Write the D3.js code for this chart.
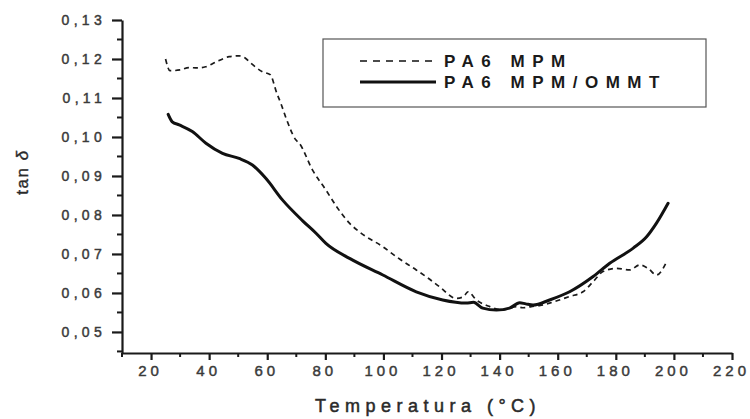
<!DOCTYPE html>
<html>
<head>
<meta charset="utf-8">
<script src="https://cdn.jsdelivr.net/npm/d3@7"></script>
<style>
  body { margin: 0; background: #fff; }
  svg { font-family: "Liberation Sans", Arial, sans-serif; }
</style>
</head>
<body>
<script>
// data (temperature in °C, tan delta)
const seriesNames = ["PA6 MPM", "PA6 MPM/OMMT"];

const tempMPM = [25, 26.5, 30, 33, 36, 38.8, 42.3, 46.9, 50.3, 52.5, 54.4, 58.4, 61, 63.3, 64.7, 66.4, 69.9, 71, 75.6, 80.2, 84, 88.3, 92, 99.7, 105, 111.3, 115, 119.3, 125.1, 127.5, 129.1, 132, 136.6, 141.1, 145.8, 148, 150.9, 154, 157.2, 164.1, 168.7, 172.2, 175.6, 180.2, 184.8, 188.3, 191.1, 194, 197.5];
const tanMPM = [0.1200, 0.1170, 0.1172, 0.1178, 0.1177, 0.1180, 0.1192, 0.1206, 0.1208, 0.1202, 0.1189, 0.1167, 0.1160, 0.1112, 0.1086, 0.1050, 0.0992, 0.0984, 0.0915, 0.0864, 0.0820, 0.0779, 0.0755, 0.0719, 0.0690, 0.0659, 0.0640, 0.0616, 0.0586, 0.0590, 0.0603, 0.0582, 0.0565, 0.0556, 0.0565, 0.0562, 0.0565, 0.0568, 0.0574, 0.0591, 0.0603, 0.0629, 0.0655, 0.0663, 0.0659, 0.0672, 0.0663, 0.0646, 0.0680];

const tempOMMT = [25.9, 27.3, 29.7, 34.2, 38.9, 44.6, 50.3, 54.9, 59.5, 65.3, 72.2, 76.8, 80.2, 88.5, 99.8, 111.3, 120.4, 128.5, 131, 134.2, 138.9, 143.4, 146.9, 149, 151.5, 157.2, 164.1, 172.2, 177.9, 186, 190.6, 194, 198];
const tanOMMT = [0.1058, 0.1039, 0.1031, 0.1014, 0.0984, 0.0958, 0.0945, 0.0928, 0.0894, 0.0838, 0.0785, 0.0753, 0.0727, 0.0688, 0.0646, 0.0603, 0.0582, 0.0574, 0.0576, 0.0561, 0.0556, 0.0561, 0.0575, 0.0572, 0.0569, 0.0582, 0.0603, 0.0642, 0.0676, 0.0715, 0.0744, 0.0779, 0.0830];

const xTicks = [20, 40, 60, 80, 100, 120, 140, 160, 180, 200, 220];
const yTicks = [0.05, 0.06, 0.07, 0.08, 0.09, 0.10, 0.11, 0.12, 0.13];
const xMinor = [10, 30, 50, 70, 90, 110, 130, 150, 170, 190, 210];
const yMinor = [0.045, 0.055, 0.065, 0.075, 0.085, 0.095, 0.105, 0.115, 0.125];

const W = 750, H = 419;
const svg = d3.select("body").append("svg").attr("width", W).attr("height", H);

const x = d3.scaleLinear().domain([10, 220]).range([122, 732]);
const y = d3.scaleLinear().domain([0.0446, 0.13]).range([353, 20]);

const ink = "#1a1a1a";
const x0 = x.range()[0], y0 = y.range()[0];

// minor ticks
const minor = svg.append("g").attr("stroke", ink).attr("stroke-width", 2);
minor.selectAll(".xmin").data(xMinor).join("line")
  .attr("x1", d => x(d)).attr("x2", d => x(d))
  .attr("y1", y0).attr("y2", y0 + 4);
minor.selectAll(".ymin").data(yMinor).join("line")
  .attr("x1", x0 - 5).attr("x2", x0)
  .attr("y1", d => y(d)).attr("y2", d => y(d));

// axes
const xAxis = svg.append("g")
  .attr("transform", `translate(0,${y0})`)
  .call(d3.axisBottom(x).tickValues(xTicks).tickSizeInner(7).tickSizeOuter(0).tickPadding(5));
const yAxis = svg.append("g")
  .attr("transform", `translate(${x0},0)`)
  .call(d3.axisLeft(y).tickValues(yTicks).tickSizeInner(10).tickSizeOuter(0).tickPadding(6)
    .tickFormat(d => d3.format(".2f")(d).replace(".", ",")));

[xAxis, yAxis].forEach(g => {
  g.select(".domain").attr("stroke", ink).attr("stroke-width", 2.2);
  g.selectAll(".tick line").attr("stroke", ink).attr("stroke-width", 2.2);
  g.selectAll("text")
    .attr("fill", "#3a3a3a")
    .attr("stroke", "#3a3a3a")
    .attr("stroke-width", 0.45);
});
xAxis.selectAll("text").attr("dx", "-1px").style("font-size", "15px").style("letter-spacing", "4px");
yAxis.selectAll("text").style("font-size", "14px").style("letter-spacing", "4.3px");

// axis titles
svg.append("text")
  .attr("x", 428).attr("y", 412)
  .attr("text-anchor", "middle")
  .attr("fill", "#2a2a2a")
  .attr("stroke", "#2a2a2a")
  .attr("stroke-width", 0.5)
  .style("font-size", "18px")
  .style("letter-spacing", "5.5px")
  .text("Temperatura (°C)");

const yt = svg.append("text")
  .attr("transform", "translate(28,172) rotate(-90)")
  .attr("text-anchor", "middle")
  .attr("fill", "#2a2a2a")
  .attr("stroke", "#2a2a2a")
  .attr("stroke-width", 0.4)
  .style("font-size", "17px")
  .style("letter-spacing", "1.5px");
yt.append("tspan").text("tan ");
yt.append("tspan").style("font-style", "italic").text("δ");

// curves
const line = d3.line().x(d => x(d[0])).y(d => y(d[1])).curve(d3.curveMonotoneX);

svg.append("path")
  .datum(d3.zip(tempMPM, tanMPM))
  .attr("d", line)
  .attr("fill", "none")
  .attr("stroke", "#1a1a1a")
  .attr("stroke-width", 1.7)
  .attr("stroke-dasharray", "5,4");

svg.append("path")
  .datum(d3.zip(tempOMMT, tanOMMT))
  .attr("d", line)
  .attr("fill", "none")
  .attr("stroke", "#111")
  .attr("stroke-width", 3)
  .attr("stroke-linecap", "round");

// legend
const leg = svg.append("g");
leg.append("rect")
  .attr("x", 323).attr("y", 39).attr("width", 383).attr("height", 68)
  .attr("fill", "none").attr("stroke", "#555").attr("stroke-width", 1.2);

seriesNames.forEach((name, i) => {
  const ly = 61 + i * 21;
  leg.append("line")
    .attr("x1", 360).attr("x2", 436).attr("y1", ly).attr("y2", ly)
    .attr("stroke", "#111")
    .attr("stroke-width", i === 0 ? 1.4 : 3)
    .attr("stroke-dasharray", i === 0 ? "7,6" : null);
  leg.append("text")
    .attr("x", 444).attr("y", ly + 6)
    .attr("fill", "#1a1a1a")
    .style("font-size", "17px")
    .style("font-weight", "bold")
    .style("letter-spacing", "7.5px")
    .text(name);
});
</script>
</body>
</html>
